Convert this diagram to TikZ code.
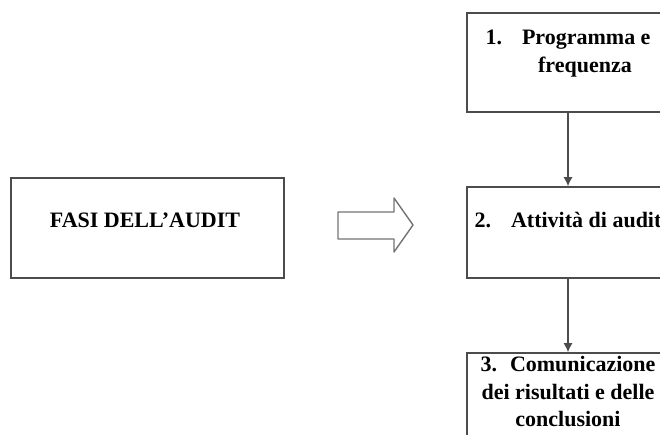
\documentclass[tikz,border=0pt]{standalone}
\usepackage{fontspec}
\setmainfont{Liberation Serif}
\usepackage{tikz}
\usetikzlibrary{positioning,arrows.meta}

\begin{document}
\begin{tikzpicture}[x=1pt, y=-1pt,
    box/.style={draw=black!70, line width=1.6pt, rectangle, inner sep=0pt},
    testo/.style={font=\fontsize{22}{27.5}\selectfont\bfseries, align=center, inner sep=0pt},
    freccia/.style={draw=black!70, line width=1.2pt},
    blocco/.style={draw=black!55, line width=1.4pt, line join=round}]
    \useasboundingbox (0,0) rectangle (660,435);
    \clip (0,0) rectangle (660,435);

    \node(fasi) [box, minimum width=273pt, minimum height=100pt] at (147.5,228) {};
    \node(fasit) [testo, anchor=base] at (145,228) {FASI DELL’AUDIT};

    \node(prog) [box, minimum width=202pt, minimum height=99pt] at (568,62.5) {};
    \node(att) [box, minimum width=202pt, minimum height=91pt] at (568,232.5) {};
    \node(com) [box, minimum width=202pt, minimum height=100pt] at (568,403) {};

    \node(progt) [testo, below=18pt of prog.north] {1.\hspace{20pt}Programma e\\\hspace*{34pt}frequenza};
    \node(attt) [testo, anchor=base] at (568,228) {2.\hspace{20pt}Attività di audit};
    \node(comt) [testo, below=4pt of com.north] {3.\hspace{13pt}Comunicazione\\dei risultati e delle\\conclusioni};

    % freccia grande
    \draw[blocco] (338,212) -- (394,212) -- (394,198) -- (413,225) -- (394,252) -- (394,239) -- (338,239) -- cycle;

    \draw[freccia, -{Latex[length=9pt,width=9pt]}](prog) -- (att);
    \draw[freccia, -{Latex[length=9pt,width=9pt]}](att) -- (com);
\end{tikzpicture}
\end{document}
